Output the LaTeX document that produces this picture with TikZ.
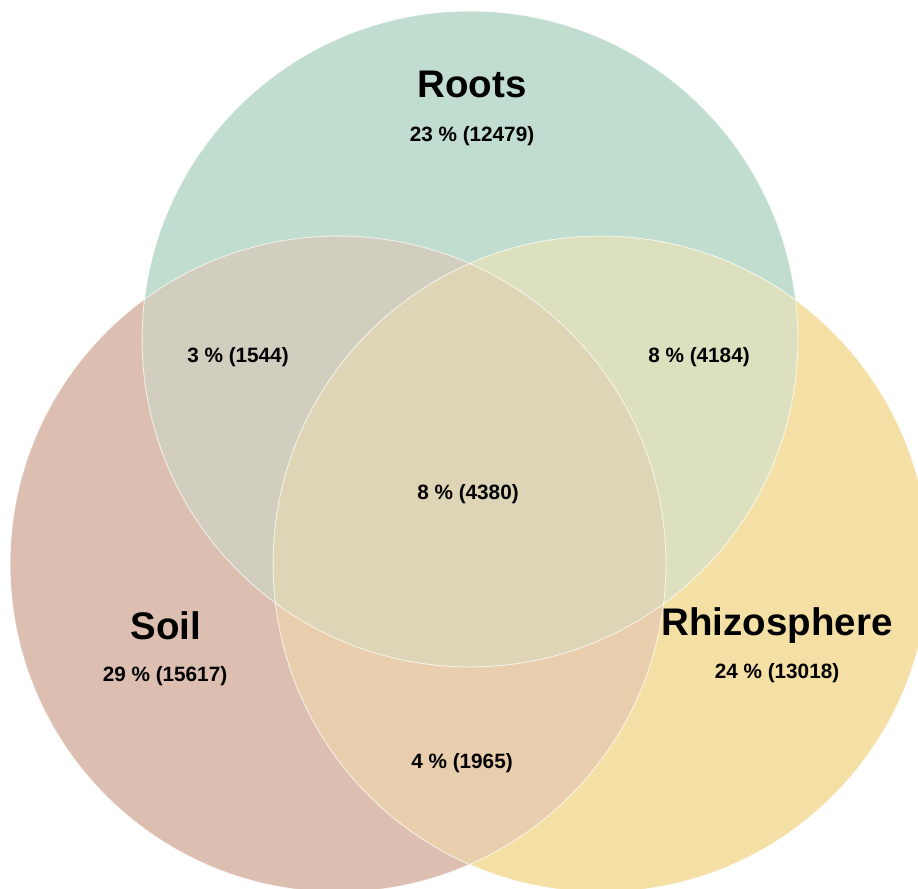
\documentclass[tikz,border=0pt]{standalone}
\usepackage{fontspec}
\setmainfont{Liberation Sans}
\usepackage{tikz}

\definecolor{rootsc}{RGB}{193,221,207}
\definecolor{soilc}{RGB}{220,191,176}
\definecolor{rhizoc}{RGB}{244,223,164}
\definecolor{rootssoilc}{RGB}{209,206,191}
\definecolor{rootsrhizoc}{RGB}{221,224,190}
\definecolor{soilrhizoc}{RGB}{232,206,172}
\definecolor{allc}{RGB}{222,213,182}

\newcommand{\vennrad}{6.56cm}

\begin{document}
\begin{tikzpicture}[x=0.02cm,y=-0.02cm,
    setname/.style={font=\fontsize{21.9}{24}\selectfont\bfseries, anchor=base},
    setcount/.style={font=\fontsize{11.8}{14}\selectfont\bfseries, anchor=base},
    rim/.style={draw=white, draw opacity=0.7, line width=0.5pt}]
    \useasboundingbox (0,0) rectangle (918,888);
    % Set centres
    \coordinate (roots) at (470,339);
    \coordinate (soil) at (338,564);
    \coordinate (rhizo) at (601,564);
    % Single sets
    \fill[rootsc] (roots) circle[radius=\vennrad];
    \fill[soilc] (soil) circle[radius=\vennrad];
    \fill[rhizoc] (rhizo) circle[radius=\vennrad];
    % Two-set overlaps
    \begin{scope}
        \clip (roots) circle[radius=\vennrad];
        \fill[rootssoilc] (soil) circle[radius=\vennrad];
        \fill[rootsrhizoc] (rhizo) circle[radius=\vennrad];
    \end{scope}
    \begin{scope}
        \clip (soil) circle[radius=\vennrad];
        \fill[soilrhizoc] (rhizo) circle[radius=\vennrad];
        % Three-set overlap
        \clip (roots) circle[radius=\vennrad];
        \fill[allc] (rhizo) circle[radius=\vennrad];
    \end{scope}
    % Rims
    \draw[rim] (roots) circle[radius=\vennrad];
    \draw[rim] (soil) circle[radius=\vennrad];
    \draw[rim] (rhizo) circle[radius=\vennrad];
    %
    % Set names and counts
    \node[setname] (rootsname) at (472,98) {Roots};
    \node[setcount] (rootsonly) at (472,142) {23 \% (12479)};
    \node[setname] (soilname) at (166,639) {Soil};
    \node[setcount] (soilonly) at (165,681) {29 \% (15617)};
    \node[setname] (rhizoname) at (777,635) {Rhizosphere};
    \node[setcount] (rhizoonly) at (777,678) {24 \% (13018)};
    % Overlap counts
    \node[setcount] (rootssoil) at (238,362) {3 \% (1544)};
    \node[setcount] (rootsrhizo) at (699,362) {8 \% (4184)};
    \node[setcount] (soilrhizo) at (462,768) {4 \% (1965)};
    \node[setcount] (allthree) at (468,499) {8 \% (4380)};
\end{tikzpicture}
\end{document}
